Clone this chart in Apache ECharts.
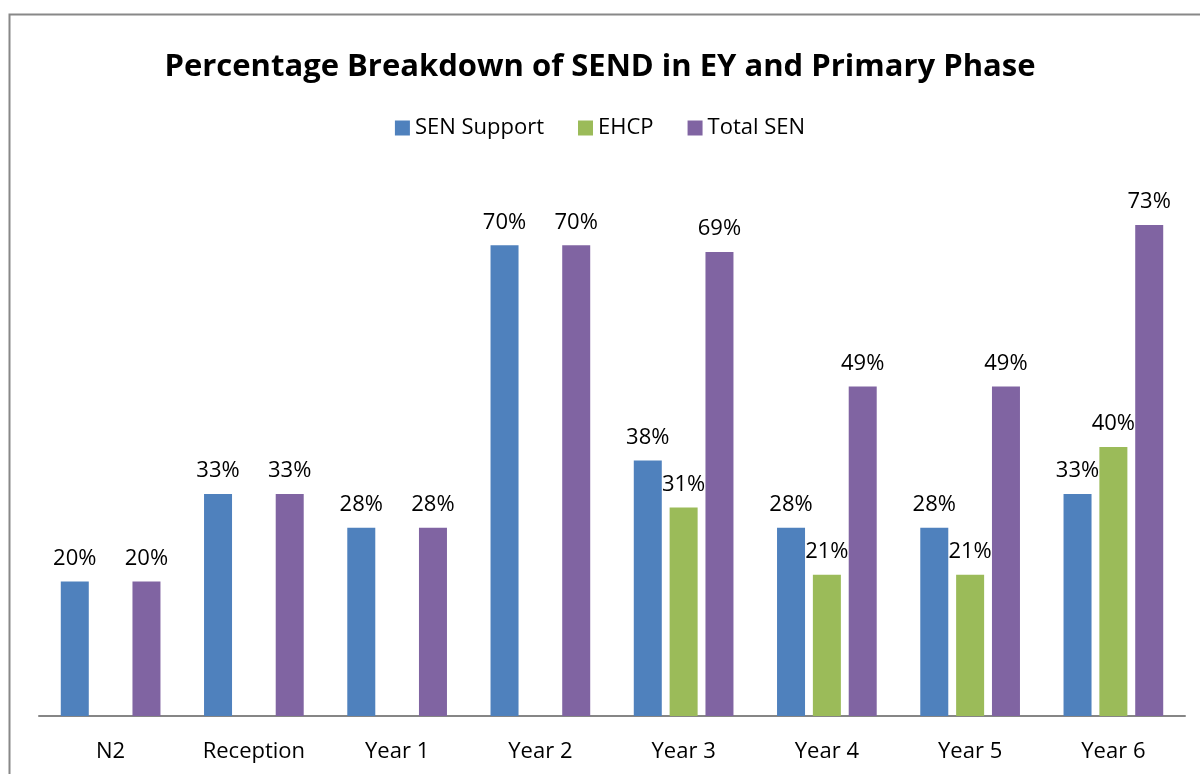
<!DOCTYPE html>
<html>
<head>
<meta charset="utf-8">
<script src="https://cdn.jsdelivr.net/npm/echarts@6/dist/echarts.min.js"></script>
<style>
  html, body { margin: 0; padding: 0; background: #fff; }
  #main { width: 1200px; height: 774px; }
</style>
</head>
<body>
<div id="main"></div>
<script>
const categories = ["N2", "Reception", "Year 1", "Year 2", "Year 3", "Year 4", "Year 5", "Year 6"];
const senSupport = [20, 33, 28, 70, 38, 28, 28, 33];
const ehcp = ["-", "-", "-", "-", 31, 21, 21, 40];
const totalSen = [20, 33, 28, 70, 69, 49, 49, 73];

const font = "Open Sans";
const chart = echarts.init(document.getElementById("main"));

const barLabel = {
  show: true,
  position: "top",
  distance: 12,
  color: "#000",
  fontFamily: font,
  fontSize: 22,
  formatter: "{c}%"
};

const option = {
  animation: false,
  graphic: [
    {
      type: "rect",
      shape: { x: 9.5, y: 14.5, width: 1400, height: 1000 },
      style: { fill: "none", stroke: "#888", lineWidth: 2 }
    }
  ],
  title: {
    text: "Percentage Breakdown of SEND in EY and Primary Phase",
    left: "center",
    top: 47,
    textStyle: { fontFamily: font, fontWeight: "bold", fontSize: 31, color: "#000" }
  },
  legend: {
    top: 112,
    left: "center",
    itemWidth: 15,
    itemHeight: 15,
    itemGap: 34,
    icon: "rect",
    textStyle: { fontFamily: font, fontSize: 22, color: "#000" },
    data: ["SEN Support", "EHCP", "Total SEN"]
  },
  grid: { left: 39, right: 15, top: 178, bottom: 58 },
  xAxis: {
    type: "category",
    data: categories,
    axisLine: { lineStyle: { color: "#868686", width: 2 } },
    axisTick: { show: false },
    axisLabel: { color: "#000", fontFamily: font, fontSize: 22, margin: 25 }
  },
  yAxis: {
    type: "value",
    min: 0,
    max: 80,
    show: false,
    splitLine: { show: false }
  },
  series: [
    {
      name: "SEN Support",
      type: "bar",
      data: senSupport,
      barWidth: 28,
      barGap: "28%",
      itemStyle: { color: "#4F81BD" },
      label: barLabel
    },
    {
      name: "EHCP",
      type: "bar",
      data: ehcp,
      barWidth: 28,
      barGap: "28%",
      itemStyle: { color: "#9BBB59" },
      label: barLabel
    },
    {
      name: "Total SEN",
      type: "bar",
      data: totalSen,
      barWidth: 28,
      barGap: "28%",
      itemStyle: { color: "#8064A2" },
      label: barLabel
    }
  ]
};

chart.setOption(option);
</script>
</body>
</html>
